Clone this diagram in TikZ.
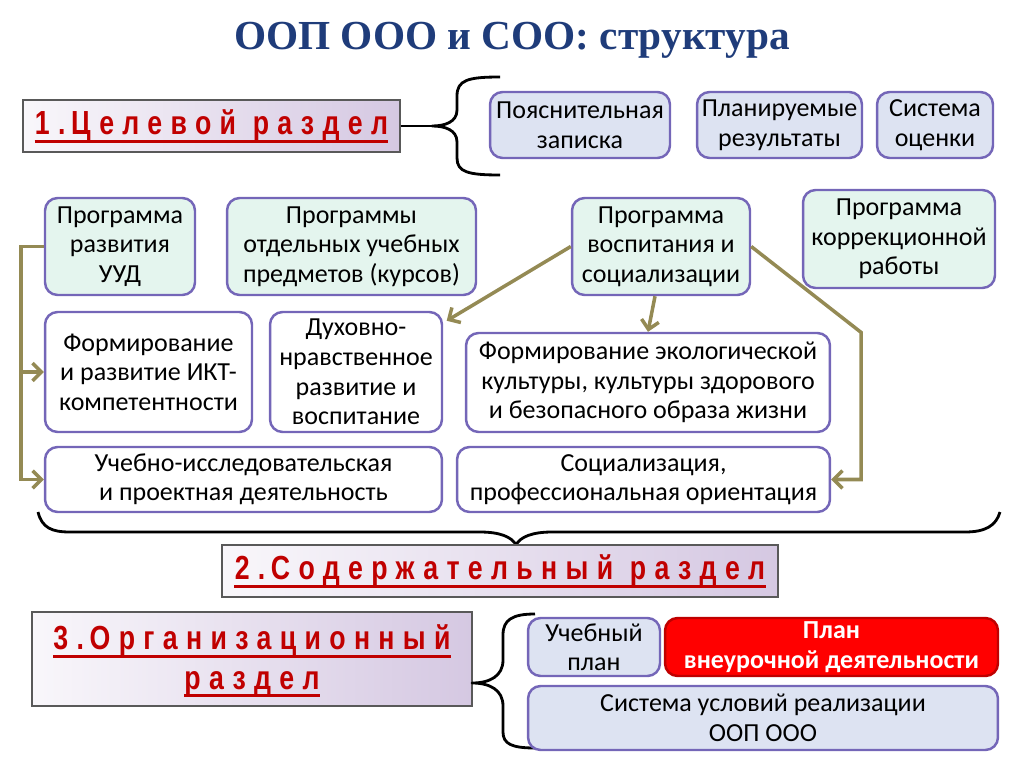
\documentclass[tikz,border=0pt]{standalone}
\usepackage{fontspec}
\setmainfont{Carlito}
\newfontfamily\titlefont{Liberation Serif}
\newfontfamily\headfont[FakeStretch=0.8,LetterSpace=25]{Liberation Sans}
\usetikzlibrary{arrows.meta,calc}
\definecolor{titleblue}{HTML}{1F3C7A}
\definecolor{headred}{HTML}{C00000}
\definecolor{boxline}{HTML}{7466B8}
\definecolor{paleblue}{HTML}{DDE3F2}
\definecolor{mint}{HTML}{E4F5EE}
\definecolor{olive}{HTML}{948A54}
\definecolor{headbg}{HTML}{D5C8E2}
\definecolor{planred}{HTML}{FF0000}

\begin{document}
\begin{tikzpicture}[x=0.02cm,y=-0.02cm,
  box/.style={draw=boxline,line width=1.4pt,rounded corners=0.25cm,align=center,inner sep=2pt,font=\fontsize{14.8}{16.8}\selectfont},
  headbox/.style={draw=black!65,line width=0.8pt,left color=white!85!headbg,right color=headbg},
  headtext/.style={inner sep=0pt,text=headred,font=\headfont\bfseries\fontsize{19}{22}\selectfont},
  conn/.style={olive,line width=2pt,-{Straight Barb[length=5pt,width=10pt]}},
  brace/.style={line width=1.6pt,line join=round}]
  \useasboundingbox (0,0) rectangle (1024,767);

  % Title
  \node[font=\titlefont\bfseries\fontsize{23.5}{28}\selectfont,text=titleblue] (title) at (512,40) {ООП ООО и СОО: структура};

  % 1. target section
  \node[headbox,minimum width=7.54cm,minimum height=1.04cm] (head1) at (211.5,126) {};
  \node[headtext] (head1t) at (head1) {1.\,Целевой\enspace раздел};
  \draw[headred,line width=1.6pt] ([yshift=-3.5pt]head1t.base west) -- ([yshift=-3.5pt]head1t.base east);
  \coordinate (b1) at (432,126);
  \draw[brace] (500,77) .. controls (468,77) and (457,80) .. (457,96) -- (457,110) .. controls (457,122) and (445,126) .. (b1)
    .. controls (445,126) and (457,130) .. (457,142) -- (457,158) .. controls (457,172) and (468,175) .. (500,175);
  \draw[brace] (head1.east) -- (b1);
  \node[box,fill=paleblue,minimum width=3.6cm,minimum height=1.32cm] (expl) at (580,125) {Пояснительная\\записка};
  \node[box,fill=paleblue,minimum width=3.3cm,minimum height=1.32cm] (plan) at (779.5,125) {Планируемые\\результаты};
  \node[box,fill=paleblue,minimum width=2.32cm,minimum height=1.32cm] (eval) at (935,125) {Система\\оценки};

  % programmes
  \node[box,fill=mint,minimum width=3cm,minimum height=1.94cm] (uud) at (120,246.5) {Программа\\развития\\УУД};
  \node[box,fill=mint,minimum width=4.98cm,minimum height=1.94cm] (subj) at (351.5,246.5) {Программы\\отдельных учебных\\предметов (курсов)};
  \node[box,fill=mint,minimum width=3.56cm,minimum height=1.94cm] (vosp) at (661,246.5) {Программа\\воспитания и\\социализации};
  \node[box,fill=mint,minimum width=3.84cm,minimum height=1.96cm] (korr) at (899,239) {Программа\\коррекционной\\работы};

  \node[box,fill=white,minimum width=4.14cm,minimum height=2.4cm] (ikt) at (148.5,372) {Формирование\\и развитие ИКТ-\\компетентности};
  \node[box,fill=white,minimum width=3.44cm,minimum height=2.4cm] (dukh) at (356,372) {Духовно-\\нравственное\\развитие и\\воспитание};
  \node[box,fill=white,minimum width=7.28cm,minimum height=1.98cm] (eco) at (648,382.5) {Формирование экологической\\культуры, культуры здорового\\и безопасного образа жизни};
  \node[box,fill=white,minimum width=7.94cm,minimum height=1.3cm] (proj) at (243.5,479.5) {Учебно-исследовательская\\и проектная деятельность};
  \node[box,fill=white,minimum width=7.46cm,minimum height=1.3cm] (soc) at (643.5,479.5) {Социализация,\\профессиональная ориентация};

  \draw[conn] (uud.west) -- ++(-23,0) |- (ikt.west);
  \draw[conn] (uud.west) -- ++(-23,0) |- (proj.west);
  \draw[conn] (vosp.west) -- ([xshift=2pt,yshift=-0.2cm]dukh.north east);
  \draw[conn] ([xshift=-0.12cm]vosp.south) -- (eco.north);
  \draw[conn] (vosp.east) -- ++(110,86) |- (soc.east);

  % 2. content section
  \coordinate (b2) at (516,545);
  \draw[brace] (38,512) .. controls (42,528) and (52,532) .. (70,532) -- (480,532) .. controls (500,532) and (512,537) .. (b2)
    .. controls (520,537) and (532,532) .. (552,532) -- (965,532) .. controls (985,532) and (996,526) .. (1000,512);
  \node[headbox,minimum width=11.12cm,minimum height=1.04cm] (head2) at (500,571) {};
  \node[headtext] (head2t) at (head2) {2.\,Содержательный\enspace раздел};
  \draw[headred,line width=1.6pt] ([yshift=-3.5pt]head2t.base west) -- ([yshift=-3.5pt]head2t.base east);

  % 3. organisation section
  \node[headbox,minimum width=8.8cm,minimum height=1.88cm] (head3) at (252,659) {};
  \node[headtext] (head3a) at (252,641) {3.\,Организационный};
  \node[headtext] (head3b) at (252,684) {раздел};
  \draw[headred,line width=1.6pt] ([yshift=-3.5pt]head3a.base west) -- ([yshift=-3.5pt]head3a.base east);
  \draw[headred,line width=1.6pt] ([yshift=-3.5pt]head3b.base west) -- ([yshift=-3.5pt]head3b.base east);
  \coordinate (b3) at (472,683);
  \draw[brace] (535,614) .. controls (512,614) and (503,620) .. (503,635) -- (503,660) .. controls (503,676) and (490,683) .. (b3)
    .. controls (490,683) and (503,690) .. (503,706) -- (503,732) .. controls (503,744) and (512,748) .. (535,748);
  \node[box,fill=paleblue,minimum width=2.64cm,minimum height=1.16cm] (ucheb) at (594,647) {Учебный\\план};
  \node[box,fill=planred,draw=planred!75!black,text=white,font=\bfseries\fontsize{14.8}{16.8}\selectfont,minimum width=6.66cm,minimum height=1.16cm] (vneur) at (831.5,647) {План\\внеурочной деятельности};
  \node[box,fill=paleblue,minimum width=9.4cm,minimum height=1.28cm] (usl) at (763,718) {Система условий реализации\\ООП ООО};
\end{tikzpicture}
\end{document}
